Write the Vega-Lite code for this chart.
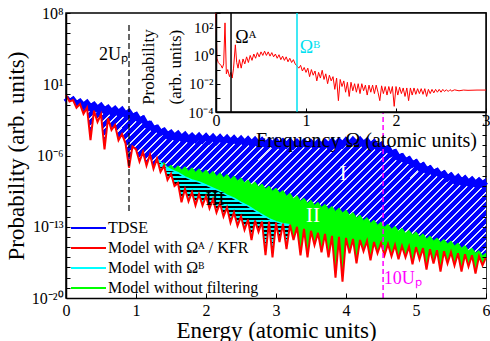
{
"$schema":"https://vega.github.io/schema/vega-lite/v6.json",
"width":420,"height":285,
"autosize":{"type":"none"},
"padding":{"left":66,"top":13,"right":4,"bottom":43},
"background":"white",
"config":{
 "view":{"stroke":"black","strokeWidth":1.5},
 "font":"Liberation Serif",
 "style":{"guide-label":{"font":"Liberation Serif","fill":"black"},"guide-title":{"font":"Liberation Serif","fontWeight":"normal","fill":"black"}},
 "axis":{"labelFont":"Liberation Serif","titleFont":"Liberation Serif","labelColor":"black","titleColor":"black","domainColor":"black","tickColor":"black","titleFontWeight":"normal","grid":false,"labelFlush":false,"labelOverlap":false,"domainWidth":1.5},
 "legend":{"labelFont":"Liberation Serif","labelColor":"black"}
},
"datasets":{
"tdse":[{"E":0,"P":0.891},{"E":0.05,"P":0.316},{"E":0.1,"P":0.562},{"E":0.15,"P":0.2},{"E":0.2,"P":0.355},{"E":0.25,"P":0.141},{"E":0.3,"P":0.282},{"E":0.35,"P":0.1},{"E":0.4,"P":0.178},{"E":0.45,"P":0.0708},{"E":0.5,"P":0.141},{"E":0.55,"P":0.0501},{"E":0.6,"P":0.0891},{"E":0.65,"P":0.0355},{"E":0.7,"P":0.0708},{"E":0.75,"P":0.0282},{"E":0.8,"P":0.0562},{"E":0.85,"P":0.02},{"E":0.9,"P":0.0355},{"E":0.95,"P":0.0112},{"E":1.0,"P":0.0178},{"E":1.05,"P":0.00501},{"E":1.1,"P":0.00794},{"E":1.15,"P":0.002},{"E":1.2,"P":0.00251},{"E":1.25,"P":0.000708},{"E":1.3,"P":0.001},{"E":1.35,"P":0.000316},{"E":1.4,"P":0.000501},{"E":1.45,"P":0.000178},{"E":1.5,"P":0.000316},{"E":1.55,"P":0.000126},{"E":1.6,"P":0.000251},{"E":1.65,"P":0.0001},{"E":1.7,"P":0.0002},{"E":1.75,"P":7.94e-5},{"E":1.8,"P":1.58e-4},{"E":1.85,"P":7.08e-5},{"E":1.9,"P":1.58e-4},{"E":1.95,"P":6.31e-5},{"E":2.0,"P":1.41e-4},{"E":2.05,"P":5.62e-5},{"E":2.1,"P":1.26e-4},{"E":2.15,"P":5.01e-5},{"E":2.2,"P":1.12e-4},{"E":2.25,"P":4.47e-5},{"E":2.3,"P":1e-4},{"E":2.35,"P":3.98e-5},{"E":2.4,"P":8.91e-5},{"E":2.45,"P":3.55e-5},{"E":2.5,"P":7.94e-5},{"E":2.55,"P":3.16e-5},{"E":2.6,"P":7.08e-5},{"E":2.65,"P":2.82e-5},{"E":2.7,"P":6.31e-5},{"E":2.75,"P":2.51e-5},{"E":2.8,"P":5.62e-5},{"E":2.85,"P":2.24e-5},{"E":2.9,"P":5.01e-5},{"E":2.95,"P":2.24e-5},{"E":3.0,"P":5.01e-5},{"E":3.05,"P":2.0e-5},{"E":3.1,"P":4.47e-5},{"E":3.15,"P":2.0e-5},{"E":3.2,"P":4.47e-5},{"E":3.25,"P":1.78e-5},{"E":3.3,"P":3.98e-5},{"E":3.35,"P":1.78e-5},{"E":3.4,"P":3.98e-5},{"E":3.45,"P":1.58e-5},{"E":3.5,"P":3.55e-5},{"E":3.55,"P":1.58e-5},{"E":3.6,"P":3.55e-5},{"E":3.65,"P":1.78e-5},{"E":3.7,"P":3.98e-5},{"E":3.75,"P":1.78e-5},{"E":3.8,"P":4.47e-5},{"E":3.85,"P":2.0e-5},{"E":3.9,"P":5.01e-5},{"E":3.95,"P":2.24e-5},{"E":4.0,"P":5.62e-5},{"E":4.05,"P":2.51e-5},{"E":4.1,"P":6.31e-5},{"E":4.15,"P":2.82e-5},{"E":4.2,"P":6.31e-5},{"E":4.25,"P":2.51e-5},{"E":4.3,"P":5.01e-5},{"E":4.35,"P":1.78e-5},{"E":4.4,"P":3.55e-5},{"E":4.45,"P":1.12e-5},{"E":4.5,"P":2.0e-5},{"E":4.55,"P":6.31e-6},{"E":4.6,"P":1e-5},{"E":4.65,"P":2.82e-6},{"E":4.7,"P":3.98e-6},{"E":4.75,"P":1.12e-6},{"E":4.8,"P":1.58e-6},{"E":4.85,"P":5.01e-7},{"E":4.9,"P":7.94e-7},{"E":4.95,"P":2.51e-7},{"E":5.0,"P":3.98e-7},{"E":5.05,"P":1.26e-7},{"E":5.1,"P":2.0e-7},{"E":5.15,"P":6.31e-8},{"E":5.2,"P":1e-7},{"E":5.25,"P":3.55e-8},{"E":5.3,"P":5.62e-8},{"E":5.35,"P":2.0e-8},{"E":5.4,"P":3.16e-8},{"E":5.45,"P":1.12e-8},{"E":5.5,"P":2.0e-8},{"E":5.55,"P":7.08e-9},{"E":5.6,"P":1.41e-8},{"E":5.65,"P":5.01e-9},{"E":5.7,"P":1e-8},{"E":5.75,"P":3.98e-9},{"E":5.8,"P":7.94e-9},{"E":5.85,"P":3.16e-9},{"E":5.9,"P":6.31e-9},{"E":5.95,"P":2.82e-9},{"E":6.0,"P":5.62e-9}],
"red":[{"E":0,"P":0.891},{"E":0.05,"P":0.2},{"E":0.1,"P":0.282},{"E":0.15,"P":0.0501},{"E":0.2,"P":0.112},{"E":0.25,"P":0.0126},{"E":0.3,"P":0.0501},{"E":0.35,"P":3.16e-5},{"E":0.4,"P":0.0251},{"E":0.45,"P":0.002},{"E":0.5,"P":0.0112},{"E":0.55,"P":3.98e-6},{"E":0.6,"P":0.00447},{"E":0.65,"P":0.000316},{"E":0.7,"P":0.001},{"E":0.75,"P":3.16e-5},{"E":0.8,"P":1.26e-4},{"E":0.85,"P":1.58e-5},{"E":0.9,"P":6.31e-8},{"E":0.95,"P":7.94e-6},{"E":1.0,"P":3.98e-6},{"E":1.05,"P":2.51e-7},{"E":1.1,"P":2.24e-6},{"E":1.15,"P":1e-7},{"E":1.2,"P":1.26e-6},{"E":1.25,"P":5.01e-8},{"E":1.3,"P":5.01e-7},{"E":1.35,"P":2.51e-8},{"E":1.4,"P":1e-7},{"E":1.45,"P":3.98e-9},{"E":1.5,"P":1.58e-8},{"E":1.55,"P":1e-9},{"E":1.6,"P":2.0e-9},{"E":1.65,"P":2.51e-11},{"E":1.7,"P":5.01e-10},{"E":1.75,"P":3.16e-11},{"E":1.8,"P":2.51e-10},{"E":1.85,"P":1.26e-11},{"E":1.9,"P":1.58e-10},{"E":1.95,"P":1.26e-11},{"E":2.0,"P":1e-10},{"E":2.05,"P":6.31e-12},{"E":2.1,"P":5.01e-11},{"E":2.15,"P":2.51e-12},{"E":2.2,"P":2.0e-11},{"E":2.25,"P":1e-12},{"E":2.3,"P":7.94e-12},{"E":2.35,"P":2.51e-13},{"E":2.4,"P":2.51e-12},{"E":2.45,"P":1.26e-13},{"E":2.5,"P":1e-12},{"E":2.55,"P":5.01e-14},{"E":2.6,"P":5.01e-13},{"E":2.65,"P":5.01e-15},{"E":2.7,"P":3.98e-13},{"E":2.75,"P":3.16e-14},{"E":2.8,"P":3.16e-13},{"E":2.85,"P":1.58e-16},{"E":2.9,"P":3.16e-13},{"E":2.95,"P":1e-16},{"E":3.0,"P":2.51e-13},{"E":3.05,"P":3.16e-15},{"E":3.1,"P":2.0e-13},{"E":3.15,"P":6.31e-16},{"E":3.2,"P":1.58e-13},{"E":3.25,"P":5.01e-15},{"E":3.3,"P":1e-13},{"E":3.35,"P":1.58e-16},{"E":3.4,"P":6.31e-14},{"E":3.45,"P":1e-16},{"E":3.5,"P":3.98e-14},{"E":3.55,"P":1.58e-15},{"E":3.6,"P":2.51e-14},{"E":3.65,"P":3.16e-16},{"E":3.7,"P":2.0e-14},{"E":3.75,"P":1e-16},{"E":3.8,"P":1.26e-14},{"E":3.85,"P":1e-18},{"E":3.9,"P":1e-14},{"E":3.95,"P":3.98e-19},{"E":4.0,"P":7.94e-15},{"E":4.05,"P":2.51e-16},{"E":4.1,"P":6.31e-15},{"E":4.15,"P":2.51e-17},{"E":4.2,"P":5.01e-15},{"E":4.25,"P":3.98e-16},{"E":4.3,"P":3.98e-15},{"E":4.35,"P":5.01e-17},{"E":4.4,"P":3.16e-15},{"E":4.45,"P":2.51e-16},{"E":4.5,"P":2.51e-15},{"E":4.55,"P":1.58e-16},{"E":4.6,"P":2.0e-15},{"E":4.65,"P":1.26e-16},{"E":4.7,"P":1.58e-15},{"E":4.75,"P":6.31e-17},{"E":4.8,"P":1.26e-15},{"E":4.85,"P":1e-16},{"E":4.9,"P":1.12e-15},{"E":4.95,"P":2.0e-17},{"E":5.0,"P":1e-15},{"E":5.05,"P":6.31e-17},{"E":5.1,"P":7.94e-16},{"E":5.15,"P":6.31e-18},{"E":5.2,"P":6.31e-16},{"E":5.25,"P":2.51e-17},{"E":5.3,"P":5.01e-16},{"E":5.35,"P":3.98e-18},{"E":5.4,"P":3.98e-16},{"E":5.45,"P":2.51e-17},{"E":5.5,"P":3.16e-16},{"E":5.55,"P":1.58e-17},{"E":5.6,"P":2.51e-16},{"E":5.65,"P":3.98e-18},{"E":5.7,"P":2.0e-16},{"E":5.75,"P":1.26e-17},{"E":5.8,"P":1.58e-16},{"E":5.85,"P":2.51e-18},{"E":5.9,"P":1.26e-16},{"E":5.95,"P":1.58e-17},{"E":6.0,"P":1e-16}],
"green":[{"E":1.3,"P":5.01e-7},{"E":1.35,"P":1.26e-7},{"E":1.4,"P":2.0e-7},{"E":1.45,"P":6.31e-8},{"E":1.5,"P":1.12e-7},{"E":1.55,"P":4.47e-8},{"E":1.6,"P":1e-7},{"E":1.65,"P":3.55e-8},{"E":1.7,"P":7.94e-8},{"E":1.75,"P":2.82e-8},{"E":1.8,"P":6.31e-8},{"E":1.85,"P":2.24e-8},{"E":1.9,"P":5.01e-8},{"E":1.95,"P":1.78e-8},{"E":2.0,"P":3.98e-8},{"E":2.05,"P":1.26e-8},{"E":2.1,"P":2.82e-8},{"E":2.15,"P":8.91e-9},{"E":2.2,"P":2.0e-8},{"E":2.25,"P":6.31e-9},{"E":2.3,"P":1.41e-8},{"E":2.35,"P":4.47e-9},{"E":2.4,"P":1e-8},{"E":2.45,"P":3.16e-9},{"E":2.5,"P":6.31e-9},{"E":2.55,"P":2.0e-9},{"E":2.6,"P":3.98e-9},{"E":2.65,"P":1.26e-9},{"E":2.7,"P":2.51e-9},{"E":2.75,"P":7.94e-10},{"E":2.8,"P":1.58e-9},{"E":2.85,"P":5.01e-10},{"E":2.9,"P":1e-9},{"E":2.95,"P":3.16e-10},{"E":3.0,"P":6.31e-10},{"E":3.05,"P":2.0e-10},{"E":3.1,"P":3.55e-10},{"E":3.15,"P":1e-10},{"E":3.2,"P":2.0e-10},{"E":3.25,"P":5.62e-11},{"E":3.3,"P":1.12e-10},{"E":3.35,"P":3.16e-11},{"E":3.4,"P":6.31e-11},{"E":3.45,"P":2.0e-11},{"E":3.5,"P":3.98e-11},{"E":3.55,"P":1.26e-11},{"E":3.6,"P":2.51e-11},{"E":3.65,"P":7.94e-12},{"E":3.7,"P":1.58e-11},{"E":3.75,"P":5.01e-12},{"E":3.8,"P":1e-11},{"E":3.85,"P":3.16e-12},{"E":3.9,"P":7.08e-12},{"E":3.95,"P":2.24e-12},{"E":4.0,"P":4.47e-12},{"E":4.05,"P":1.26e-12},{"E":4.1,"P":2.51e-12},{"E":4.15,"P":7.08e-13},{"E":4.2,"P":1.41e-12},{"E":4.25,"P":3.98e-13},{"E":4.3,"P":7.94e-13},{"E":4.35,"P":2.24e-13},{"E":4.4,"P":4.47e-13},{"E":4.45,"P":1.41e-13},{"E":4.5,"P":2.82e-13},{"E":4.55,"P":8.91e-14},{"E":4.6,"P":1.78e-13},{"E":4.65,"P":5.62e-14},{"E":4.7,"P":1.12e-13},{"E":4.75,"P":3.55e-14},{"E":4.8,"P":7.08e-14},{"E":4.85,"P":2.24e-14},{"E":4.9,"P":4.47e-14},{"E":4.95,"P":1.58e-14},{"E":5.0,"P":3.16e-14},{"E":5.05,"P":1e-14},{"E":5.1,"P":2.0e-14},{"E":5.15,"P":6.31e-15},{"E":5.2,"P":1.26e-14},{"E":5.25,"P":3.98e-15},{"E":5.3,"P":7.94e-15},{"E":5.35,"P":2.82e-15},{"E":5.4,"P":5.62e-15},{"E":5.45,"P":2.0e-15},{"E":5.5,"P":3.98e-15},{"E":5.55,"P":1.26e-15},{"E":5.6,"P":2.51e-15},{"E":5.65,"P":7.94e-16},{"E":5.7,"P":1.41e-15},{"E":5.75,"P":4.47e-16},{"E":5.8,"P":7.94e-16},{"E":5.85,"P":2.51e-16},{"E":5.9,"P":4.47e-16},{"E":5.95,"P":1.41e-16},{"E":6.0,"P":2.51e-16}],
"cyan":[{"E":1.3,"P":5.01e-7},{"E":1.4,"P":1e-7},{"E":1.5,"P":3.98e-8},{"E":1.6,"P":2.0e-8},{"E":1.7,"P":7.94e-9},{"E":1.8,"P":3.98e-9},{"E":1.9,"P":2.51e-9},{"E":2.0,"P":1.26e-9},{"E":2.1,"P":6.31e-10},{"E":2.2,"P":3.16e-10},{"E":2.3,"P":1.26e-10},{"E":2.4,"P":6.31e-11},{"E":2.5,"P":2.51e-11},{"E":2.6,"P":1.12e-11},{"E":2.7,"P":3.98e-12},{"E":2.8,"P":1.58e-12},{"E":2.9,"P":6.31e-13},{"E":3.0,"P":3.16e-13},{"E":3.1,"P":2.0e-13},{"E":3.2,"P":1.58e-13}],
"spec":[{"f":0,"P":1000},{"f":0.01,"P":0.631},{"f":0.025,"P":0.316},{"f":0.04,"P":0.251},{"f":0.055,"P":0.2},{"f":0.07,"P":0.126},{"f":0.085,"P":0.251},{"f":0.1,"P":200},{"f":0.115,"P":0.0501},{"f":0.13,"P":0.1},{"f":0.15,"P":0.0316},{"f":0.165,"P":0.0631},{"f":0.18,"P":0.0251},{"f":0.195,"P":0.126},{"f":0.215,"P":5.62},{"f":0.23,"P":0.316},{"f":0.245,"P":0.126},{"f":0.26,"P":0.501},{"f":0.28,"P":0.126},{"f":0.3,"P":0.562},{"f":0.32,"P":0.251},{"f":0.34,"P":0.794},{"f":0.36,"P":0.316},{"f":0.38,"P":1},{"f":0.4,"P":0.447},{"f":0.42,"P":1.26},{"f":0.44,"P":0.631},{"f":0.46,"P":1.58},{"f":0.48,"P":0.794},{"f":0.5,"P":1.78},{"f":0.52,"P":1},{"f":0.54,"P":2.0},{"f":0.56,"P":1},{"f":0.58,"P":1.78},{"f":0.6,"P":0.891},{"f":0.62,"P":1.58},{"f":0.64,"P":0.794},{"f":0.66,"P":1.26},{"f":0.68,"P":0.631},{"f":0.7,"P":1.12},{"f":0.72,"P":0.501},{"f":0.74,"P":0.891},{"f":0.76,"P":0.447},{"f":0.78,"P":0.794},{"f":0.8,"P":0.355},{"f":0.82,"P":0.631},{"f":0.84,"P":0.316},{"f":0.86,"P":0.501},{"f":0.88,"P":0.251},{"f":0.9,"P":0.178},{"f":0.92,"P":0.126},{"f":0.94,"P":0.2},{"f":0.96,"P":0.0794},{"f":0.98,"P":0.141},{"f":1.0,"P":0.0631},{"f":1.02,"P":0.126},{"f":1.04,"P":0.0316},{"f":1.06,"P":0.1},{"f":1.08,"P":0.0398},{"f":1.1,"P":0.0794},{"f":1.12,"P":0.0158},{"f":1.14,"P":0.0631},{"f":1.16,"P":0.0251},{"f":1.18,"P":0.0891},{"f":1.2,"P":0.02},{"f":1.22,"P":0.0501},{"f":1.24,"P":0.01},{"f":1.26,"P":0.0398},{"f":1.28,"P":0.0158},{"f":1.3,"P":0.0316},{"f":1.32,"P":0.00398},{"f":1.34,"P":0.0251},{"f":1.36,"P":0.000631},{"f":1.38,"P":0.02},{"f":1.4,"P":0.00631},{"f":1.42,"P":0.0158},{"f":1.44,"P":0.00251},{"f":1.46,"P":0.0126},{"f":1.48,"P":0.00126},{"f":1.5,"P":0.0126},{"f":1.52,"P":0.00316},{"f":1.54,"P":0.01},{"f":1.56,"P":0.00251},{"f":1.58,"P":0.01},{"f":1.6,"P":0.002},{"f":1.62,"P":0.01},{"f":1.64,"P":0.00316},{"f":1.66,"P":0.00794},{"f":1.68,"P":0.00158},{"f":1.7,"P":0.00794},{"f":1.72,"P":0.00251},{"f":1.74,"P":0.00794},{"f":1.76,"P":0.002},{"f":1.78,"P":0.00794},{"f":1.8,"P":0.00251},{"f":1.82,"P":0.000631},{"f":1.84,"P":0.00708},{"f":1.86,"P":0.002},{"f":1.88,"P":0.00631},{"f":1.9,"P":0.00158},{"f":1.92,"P":0.00631},{"f":1.94,"P":0.002},{"f":1.96,"P":0.00631},{"f":1.98,"P":0.000251},{"f":2.0,"P":0.00631},{"f":2.02,"P":0.00158},{"f":2.04,"P":0.00562},{"f":2.06,"P":0.002},{"f":2.08,"P":0.00501},{"f":2.1,"P":0.00126},{"f":2.12,"P":0.00501},{"f":2.14,"P":0.000631},{"f":2.16,"P":0.00501},{"f":2.18,"P":0.00158},{"f":2.2,"P":0.00501},{"f":2.22,"P":0.00178},{"f":2.24,"P":0.00447},{"f":2.26,"P":0.002},{"f":2.28,"P":0.00447},{"f":2.3,"P":0.00178},{"f":2.32,"P":0.00447},{"f":2.34,"P":0.00126},{"f":2.36,"P":0.00398},{"f":2.38,"P":0.002},{"f":2.4,"P":0.00398},{"f":2.42,"P":0.00224},{"f":2.44,"P":0.00398},{"f":2.46,"P":0.00251},{"f":2.48,"P":0.00398},{"f":2.5,"P":0.00251},{"f":2.52,"P":0.00398},{"f":2.54,"P":0.00282},{"f":2.56,"P":0.0038},{"f":2.58,"P":0.00282},{"f":2.6,"P":0.0038},{"f":2.62,"P":0.003},{"f":2.65,"P":0.0037},{"f":2.7,"P":0.00316},{"f":2.75,"P":0.00355},{"f":2.8,"P":0.0034},{"f":2.9,"P":0.00355},{"f":3.0,"P":0.00355}]
},
"layer":[
{"layer":[
 {"data":{"name":"tdse"},
  "mark":{"type":"area","fill":{"gradient":"linear","x1":0,"y1":0,"x2":1.25,"y2":0.604,"stops":[
{"offset":0,"color":"#00f"},{"offset":0.0094,"color":"#00f"},{"offset":0.0094,"color":"#dde2ff"},{"offset":0.0125,"color":"#dde2ff"},
{"offset":0.0125,"color":"#00f"},{"offset":0.0219,"color":"#00f"},{"offset":0.0219,"color":"#dde2ff"},{"offset":0.025,"color":"#dde2ff"},
{"offset":0.025,"color":"#00f"},{"offset":0.0344,"color":"#00f"},{"offset":0.0344,"color":"#dde2ff"},{"offset":0.0375,"color":"#dde2ff"},
{"offset":0.0375,"color":"#00f"},{"offset":0.0469,"color":"#00f"},{"offset":0.0469,"color":"#dde2ff"},{"offset":0.05,"color":"#dde2ff"},
{"offset":0.05,"color":"#00f"},{"offset":0.0594,"color":"#00f"},{"offset":0.0594,"color":"#dde2ff"},{"offset":0.0625,"color":"#dde2ff"},
{"offset":0.0625,"color":"#00f"},{"offset":0.0719,"color":"#00f"},{"offset":0.0719,"color":"#dde2ff"},{"offset":0.075,"color":"#dde2ff"},
{"offset":0.075,"color":"#00f"},{"offset":0.0844,"color":"#00f"},{"offset":0.0844,"color":"#dde2ff"},{"offset":0.0875,"color":"#dde2ff"},
{"offset":0.0875,"color":"#00f"},{"offset":0.0969,"color":"#00f"},{"offset":0.0969,"color":"#dde2ff"},{"offset":0.1,"color":"#dde2ff"},
{"offset":0.1,"color":"#00f"},{"offset":0.1094,"color":"#00f"},{"offset":0.1094,"color":"#dde2ff"},{"offset":0.1125,"color":"#dde2ff"},
{"offset":0.1125,"color":"#00f"},{"offset":0.1219,"color":"#00f"},{"offset":0.1219,"color":"#dde2ff"},{"offset":0.125,"color":"#dde2ff"},
{"offset":0.125,"color":"#00f"},{"offset":0.1344,"color":"#00f"},{"offset":0.1344,"color":"#dde2ff"},{"offset":0.1375,"color":"#dde2ff"},
{"offset":0.1375,"color":"#00f"},{"offset":0.1469,"color":"#00f"},{"offset":0.1469,"color":"#dde2ff"},{"offset":0.15,"color":"#dde2ff"},
{"offset":0.15,"color":"#00f"},{"offset":0.1594,"color":"#00f"},{"offset":0.1594,"color":"#dde2ff"},{"offset":0.1625,"color":"#dde2ff"},
{"offset":0.1625,"color":"#00f"},{"offset":0.1719,"color":"#00f"},{"offset":0.1719,"color":"#dde2ff"},{"offset":0.175,"color":"#dde2ff"},
{"offset":0.175,"color":"#00f"},{"offset":0.1844,"color":"#00f"},{"offset":0.1844,"color":"#dde2ff"},{"offset":0.1875,"color":"#dde2ff"},
{"offset":0.1875,"color":"#00f"},{"offset":0.1969,"color":"#00f"},{"offset":0.1969,"color":"#dde2ff"},{"offset":0.2,"color":"#dde2ff"},
{"offset":0.2,"color":"#00f"},{"offset":0.2094,"color":"#00f"},{"offset":0.2094,"color":"#dde2ff"},{"offset":0.2125,"color":"#dde2ff"},
{"offset":0.2125,"color":"#00f"},{"offset":0.2219,"color":"#00f"},{"offset":0.2219,"color":"#dde2ff"},{"offset":0.225,"color":"#dde2ff"},
{"offset":0.225,"color":"#00f"},{"offset":0.2344,"color":"#00f"},{"offset":0.2344,"color":"#dde2ff"},{"offset":0.2375,"color":"#dde2ff"},
{"offset":0.2375,"color":"#00f"},{"offset":0.2469,"color":"#00f"},{"offset":0.2469,"color":"#dde2ff"},{"offset":0.25,"color":"#dde2ff"},
{"offset":0.25,"color":"#00f"},{"offset":0.2594,"color":"#00f"},{"offset":0.2594,"color":"#dde2ff"},{"offset":0.2625,"color":"#dde2ff"},
{"offset":0.2625,"color":"#00f"},{"offset":0.2719,"color":"#00f"},{"offset":0.2719,"color":"#dde2ff"},{"offset":0.275,"color":"#dde2ff"},
{"offset":0.275,"color":"#00f"},{"offset":0.2844,"color":"#00f"},{"offset":0.2844,"color":"#dde2ff"},{"offset":0.2875,"color":"#dde2ff"},
{"offset":0.2875,"color":"#00f"},{"offset":0.2969,"color":"#00f"},{"offset":0.2969,"color":"#dde2ff"},{"offset":0.3,"color":"#dde2ff"},
{"offset":0.3,"color":"#00f"},{"offset":0.3094,"color":"#00f"},{"offset":0.3094,"color":"#dde2ff"},{"offset":0.3125,"color":"#dde2ff"},
{"offset":0.3125,"color":"#00f"},{"offset":0.3219,"color":"#00f"},{"offset":0.3219,"color":"#dde2ff"},{"offset":0.325,"color":"#dde2ff"},
{"offset":0.325,"color":"#00f"},{"offset":0.3344,"color":"#00f"},{"offset":0.3344,"color":"#dde2ff"},{"offset":0.3375,"color":"#dde2ff"},
{"offset":0.3375,"color":"#00f"},{"offset":0.3469,"color":"#00f"},{"offset":0.3469,"color":"#dde2ff"},{"offset":0.35,"color":"#dde2ff"},
{"offset":0.35,"color":"#00f"},{"offset":0.3594,"color":"#00f"},{"offset":0.3594,"color":"#dde2ff"},{"offset":0.3625,"color":"#dde2ff"},
{"offset":0.3625,"color":"#00f"},{"offset":0.3719,"color":"#00f"},{"offset":0.3719,"color":"#dde2ff"},{"offset":0.375,"color":"#dde2ff"},
{"offset":0.375,"color":"#00f"},{"offset":0.3844,"color":"#00f"},{"offset":0.3844,"color":"#dde2ff"},{"offset":0.3875,"color":"#dde2ff"},
{"offset":0.3875,"color":"#00f"},{"offset":0.3969,"color":"#00f"},{"offset":0.3969,"color":"#dde2ff"},{"offset":0.4,"color":"#dde2ff"},
{"offset":0.4,"color":"#00f"},{"offset":0.4094,"color":"#00f"},{"offset":0.4094,"color":"#dde2ff"},{"offset":0.4125,"color":"#dde2ff"},
{"offset":0.4125,"color":"#00f"},{"offset":0.4219,"color":"#00f"},{"offset":0.4219,"color":"#dde2ff"},{"offset":0.425,"color":"#dde2ff"},
{"offset":0.425,"color":"#00f"},{"offset":0.4344,"color":"#00f"},{"offset":0.4344,"color":"#dde2ff"},{"offset":0.4375,"color":"#dde2ff"},
{"offset":0.4375,"color":"#00f"},{"offset":0.4469,"color":"#00f"},{"offset":0.4469,"color":"#dde2ff"},{"offset":0.45,"color":"#dde2ff"},
{"offset":0.45,"color":"#00f"},{"offset":0.4594,"color":"#00f"},{"offset":0.4594,"color":"#dde2ff"},{"offset":0.4625,"color":"#dde2ff"},
{"offset":0.4625,"color":"#00f"},{"offset":0.4719,"color":"#00f"},{"offset":0.4719,"color":"#dde2ff"},{"offset":0.475,"color":"#dde2ff"},
{"offset":0.475,"color":"#00f"},{"offset":0.4844,"color":"#00f"},{"offset":0.4844,"color":"#dde2ff"},{"offset":0.4875,"color":"#dde2ff"},
{"offset":0.4875,"color":"#00f"},{"offset":0.4969,"color":"#00f"},{"offset":0.4969,"color":"#dde2ff"},{"offset":0.5,"color":"#dde2ff"},
{"offset":0.5,"color":"#00f"},{"offset":0.5094,"color":"#00f"},{"offset":0.5094,"color":"#dde2ff"},{"offset":0.5125,"color":"#dde2ff"},
{"offset":0.5125,"color":"#00f"},{"offset":0.5219,"color":"#00f"},{"offset":0.5219,"color":"#dde2ff"},{"offset":0.525,"color":"#dde2ff"},
{"offset":0.525,"color":"#00f"},{"offset":0.5344,"color":"#00f"},{"offset":0.5344,"color":"#dde2ff"},{"offset":0.5375,"color":"#dde2ff"},
{"offset":0.5375,"color":"#00f"},{"offset":0.5469,"color":"#00f"},{"offset":0.5469,"color":"#dde2ff"},{"offset":0.55,"color":"#dde2ff"},
{"offset":0.55,"color":"#00f"},{"offset":0.5594,"color":"#00f"},{"offset":0.5594,"color":"#dde2ff"},{"offset":0.5625,"color":"#dde2ff"},
{"offset":0.5625,"color":"#00f"},{"offset":0.5719,"color":"#00f"},{"offset":0.5719,"color":"#dde2ff"},{"offset":0.575,"color":"#dde2ff"},
{"offset":0.575,"color":"#00f"},{"offset":0.5844,"color":"#00f"},{"offset":0.5844,"color":"#dde2ff"},{"offset":0.5875,"color":"#dde2ff"},
{"offset":0.5875,"color":"#00f"},{"offset":0.5969,"color":"#00f"},{"offset":0.5969,"color":"#dde2ff"},{"offset":0.6,"color":"#dde2ff"},
{"offset":0.6,"color":"#00f"},{"offset":0.6094,"color":"#00f"},{"offset":0.6094,"color":"#dde2ff"},{"offset":0.6125,"color":"#dde2ff"},
{"offset":0.6125,"color":"#00f"},{"offset":0.6219,"color":"#00f"},{"offset":0.6219,"color":"#dde2ff"},{"offset":0.625,"color":"#dde2ff"},
{"offset":0.625,"color":"#00f"},{"offset":0.6344,"color":"#00f"},{"offset":0.6344,"color":"#dde2ff"},{"offset":0.6375,"color":"#dde2ff"},
{"offset":0.6375,"color":"#00f"},{"offset":0.6469,"color":"#00f"},{"offset":0.6469,"color":"#dde2ff"},{"offset":0.65,"color":"#dde2ff"},
{"offset":0.65,"color":"#00f"},{"offset":0.6594,"color":"#00f"},{"offset":0.6594,"color":"#dde2ff"},{"offset":0.6625,"color":"#dde2ff"},
{"offset":0.6625,"color":"#00f"},{"offset":0.6719,"color":"#00f"},{"offset":0.6719,"color":"#dde2ff"},{"offset":0.675,"color":"#dde2ff"},
{"offset":0.675,"color":"#00f"},{"offset":0.6844,"color":"#00f"},{"offset":0.6844,"color":"#dde2ff"},{"offset":0.6875,"color":"#dde2ff"},
{"offset":0.6875,"color":"#00f"},{"offset":0.6969,"color":"#00f"},{"offset":0.6969,"color":"#dde2ff"},{"offset":0.7,"color":"#dde2ff"},
{"offset":0.7,"color":"#00f"},{"offset":0.7094,"color":"#00f"},{"offset":0.7094,"color":"#dde2ff"},{"offset":0.7125,"color":"#dde2ff"},
{"offset":0.7125,"color":"#00f"},{"offset":0.7219,"color":"#00f"},{"offset":0.7219,"color":"#dde2ff"},{"offset":0.725,"color":"#dde2ff"},
{"offset":0.725,"color":"#00f"},{"offset":0.7344,"color":"#00f"},{"offset":0.7344,"color":"#dde2ff"},{"offset":0.7375,"color":"#dde2ff"},
{"offset":0.7375,"color":"#00f"},{"offset":0.7469,"color":"#00f"},{"offset":0.7469,"color":"#dde2ff"},{"offset":0.75,"color":"#dde2ff"},
{"offset":0.75,"color":"#00f"},{"offset":0.7594,"color":"#00f"},{"offset":0.7594,"color":"#dde2ff"},{"offset":0.7625,"color":"#dde2ff"},
{"offset":0.7625,"color":"#00f"},{"offset":0.7719,"color":"#00f"},{"offset":0.7719,"color":"#dde2ff"},{"offset":0.775,"color":"#dde2ff"},
{"offset":0.775,"color":"#00f"},{"offset":0.7844,"color":"#00f"},{"offset":0.7844,"color":"#dde2ff"},{"offset":0.7875,"color":"#dde2ff"},
{"offset":0.7875,"color":"#00f"},{"offset":0.7969,"color":"#00f"},{"offset":0.7969,"color":"#dde2ff"},{"offset":0.8,"color":"#dde2ff"},
{"offset":0.8,"color":"#00f"},{"offset":0.8094,"color":"#00f"},{"offset":0.8094,"color":"#dde2ff"},{"offset":0.8125,"color":"#dde2ff"},
{"offset":0.8125,"color":"#00f"},{"offset":0.8219,"color":"#00f"},{"offset":0.8219,"color":"#dde2ff"},{"offset":0.825,"color":"#dde2ff"},
{"offset":0.825,"color":"#00f"},{"offset":0.8344,"color":"#00f"},{"offset":0.8344,"color":"#dde2ff"},{"offset":0.8375,"color":"#dde2ff"},
{"offset":0.8375,"color":"#00f"},{"offset":0.8469,"color":"#00f"},{"offset":0.8469,"color":"#dde2ff"},{"offset":0.85,"color":"#dde2ff"},
{"offset":0.85,"color":"#00f"},{"offset":0.8594,"color":"#00f"},{"offset":0.8594,"color":"#dde2ff"},{"offset":0.8625,"color":"#dde2ff"},
{"offset":0.8625,"color":"#00f"},{"offset":0.8719,"color":"#00f"},{"offset":0.8719,"color":"#dde2ff"},{"offset":0.875,"color":"#dde2ff"},
{"offset":0.875,"color":"#00f"},{"offset":0.8844,"color":"#00f"},{"offset":0.8844,"color":"#dde2ff"},{"offset":0.8875,"color":"#dde2ff"},
{"offset":0.8875,"color":"#00f"},{"offset":0.8969,"color":"#00f"},{"offset":0.8969,"color":"#dde2ff"},{"offset":0.9,"color":"#dde2ff"},
{"offset":0.9,"color":"#00f"},{"offset":0.9094,"color":"#00f"},{"offset":0.9094,"color":"#dde2ff"},{"offset":0.9125,"color":"#dde2ff"},
{"offset":0.9125,"color":"#00f"},{"offset":0.9219,"color":"#00f"},{"offset":0.9219,"color":"#dde2ff"},{"offset":0.925,"color":"#dde2ff"},
{"offset":0.925,"color":"#00f"},{"offset":0.9344,"color":"#00f"},{"offset":0.9344,"color":"#dde2ff"},{"offset":0.9375,"color":"#dde2ff"},
{"offset":0.9375,"color":"#00f"},{"offset":0.9469,"color":"#00f"},{"offset":0.9469,"color":"#dde2ff"},{"offset":0.95,"color":"#dde2ff"},
{"offset":0.95,"color":"#00f"},{"offset":0.9594,"color":"#00f"},{"offset":0.9594,"color":"#dde2ff"},{"offset":0.9625,"color":"#dde2ff"},
{"offset":0.9625,"color":"#00f"},{"offset":0.9719,"color":"#00f"},{"offset":0.9719,"color":"#dde2ff"},{"offset":0.975,"color":"#dde2ff"},
{"offset":0.975,"color":"#00f"},{"offset":0.9844,"color":"#00f"},{"offset":0.9844,"color":"#dde2ff"},{"offset":0.9875,"color":"#dde2ff"},
{"offset":0.9875,"color":"#00f"},{"offset":0.9969,"color":"#00f"},{"offset":0.9969,"color":"#dde2ff"},{"offset":1,"color":"#dde2ff"}
]}},
  "encoding":{
   "x":{"field":"E","type":"quantitative","scale":{"domain":[0,6],"nice":false},
        "axis":{"values":[0,0.5,1,1.5,2,2.5,3,3.5,4,4.5,5,5.5,6],"labelExpr":"datum.value % 1 == 0 ? format(datum.value, 'd') : ''","tickSize":-5,"labelPadding":9,"labelFontSize":16,"labelFont":"Liberation Serif","labelColor":"black","title":"Energy (atomic units)","titleFont":"Liberation Serif","titleFontWeight":"normal","titleColor":"black","titleFontSize":23,"titlePadding":1,"labelFlush":false,"labelOverlap":false,"zindex":1}},
   "y":{"field":"P","type":"quantitative","scale":{"type":"log","domain":[1e-20,1e8],"nice":false},
        "axis":{"values":[1e-20,1e-19,1e-18,1e-17,1e-16,1e-15,1e-14,1e-13,1e-12,1e-11,1e-10,1e-9,1e-8,1e-7,1e-6,1e-5,1e-4,1e-3,0.01,0.1,1,10,100,1000,1e4,1e5,1e6,1e7,1e8],
        "labelExpr":"datum.value == 1e8 ? '10⁸' : datum.value == 10 ? '10¹' : datum.value == 1e-6 ? '10⁻⁶' : datum.value == 1e-13 ? '10⁻¹³' : datum.value == 1e-20 ? '10⁻²⁰' : ''",
        "tickSize":-4,"labelPadding":7,"labelFontSize":16,"labelFont":"Liberation Serif","labelColor":"black","title":"Probability (arb. units)","titleFont":"Liberation Serif","titleFontWeight":"normal","titleColor":"black","titleFontSize":23,"titlePadding":3,"labelFlush":false,"labelOverlap":false,"zindex":1}},
   "y2":{"datum":1e-20}}},
 {"data":{"name":"tdse"},"mark":{"type":"line","color":"#0000ff","strokeWidth":6,"yOffset":3,"strokeJoin":"miter"},
  "encoding":{"x":{"field":"E","type":"quantitative"},"y":{"field":"P","type":"quantitative"}}},
 {"data":{"name":"tdse"},"mark":{"type":"line","strokeWidth":1},
  "encoding":{"x":{"field":"E","type":"quantitative"},"y":{"field":"P","type":"quantitative"},
   "color":{"datum":"TDSE","scale":{"domain":["TDSE","Model with Ωᴬ / KFR","Model with Ωᴮ","Model without filtering"],"range":["#0000ff","#ff0000","#00ffff","#00ff00"]},
     "legend":{"title":null,"orient":"bottom-left","offset":2,"padding":0,"rowPadding":4,"labelFontSize":16,"labelFont":"Liberation Serif","labelColor":"black","symbolType":"M-1,0H6","symbolSize":100,"symbolStrokeWidth":2,"labelOffset":24}}}},
 {"data":{"name":"green"},"mark":{"type":"area","fill":"#00ff00"},
  "encoding":{"x":{"field":"E","type":"quantitative"},"y":{"field":"P","type":"quantitative"},"y2":{"datum":1e-20}}},
 {"data":{"name":"green"},"mark":{"type":"line","strokeWidth":1},
  "encoding":{"x":{"field":"E","type":"quantitative"},"y":{"field":"P","type":"quantitative"},"color":{"datum":"Model without filtering"}}},
 {"data":{"name":"cyan"},"mark":{"type":"area","fill":{"gradient":"linear","x1":0,"y1":0,"x2":0,"y2":1,"stops":[
{"offset":0,"color":"#000"},{"offset":0.009,"color":"#000"},{"offset":0.009,"color":"#00ffff"},{"offset":0.0286,"color":"#00ffff"},
{"offset":0.0286,"color":"#000"},{"offset":0.0376,"color":"#000"},{"offset":0.0376,"color":"#00ffff"},{"offset":0.0571,"color":"#00ffff"},
{"offset":0.0571,"color":"#000"},{"offset":0.0661,"color":"#000"},{"offset":0.0661,"color":"#00ffff"},{"offset":0.0857,"color":"#00ffff"},
{"offset":0.0857,"color":"#000"},{"offset":0.0947,"color":"#000"},{"offset":0.0947,"color":"#00ffff"},{"offset":0.1143,"color":"#00ffff"},
{"offset":0.1143,"color":"#000"},{"offset":0.1233,"color":"#000"},{"offset":0.1233,"color":"#00ffff"},{"offset":0.1429,"color":"#00ffff"},
{"offset":0.1429,"color":"#000"},{"offset":0.1519,"color":"#000"},{"offset":0.1519,"color":"#00ffff"},{"offset":0.1714,"color":"#00ffff"},
{"offset":0.1714,"color":"#000"},{"offset":0.1804,"color":"#000"},{"offset":0.1804,"color":"#00ffff"},{"offset":0.2,"color":"#00ffff"},
{"offset":0.2,"color":"#000"},{"offset":0.209,"color":"#000"},{"offset":0.209,"color":"#00ffff"},{"offset":0.2286,"color":"#00ffff"},
{"offset":0.2286,"color":"#000"},{"offset":0.2376,"color":"#000"},{"offset":0.2376,"color":"#00ffff"},{"offset":0.2571,"color":"#00ffff"},
{"offset":0.2571,"color":"#000"},{"offset":0.2661,"color":"#000"},{"offset":0.2661,"color":"#00ffff"},{"offset":0.2857,"color":"#00ffff"},
{"offset":0.2857,"color":"#000"},{"offset":0.2947,"color":"#000"},{"offset":0.2947,"color":"#00ffff"},{"offset":0.3143,"color":"#00ffff"},
{"offset":0.3143,"color":"#000"},{"offset":0.3233,"color":"#000"},{"offset":0.3233,"color":"#00ffff"},{"offset":0.3429,"color":"#00ffff"},
{"offset":0.3429,"color":"#000"},{"offset":0.3519,"color":"#000"},{"offset":0.3519,"color":"#00ffff"},{"offset":0.3714,"color":"#00ffff"},
{"offset":0.3714,"color":"#000"},{"offset":0.3804,"color":"#000"},{"offset":0.3804,"color":"#00ffff"},{"offset":0.4,"color":"#00ffff"},
{"offset":0.4,"color":"#000"},{"offset":0.409,"color":"#000"},{"offset":0.409,"color":"#00ffff"},{"offset":0.4286,"color":"#00ffff"},
{"offset":0.4286,"color":"#000"},{"offset":0.4376,"color":"#000"},{"offset":0.4376,"color":"#00ffff"},{"offset":0.4571,"color":"#00ffff"},
{"offset":0.4571,"color":"#000"},{"offset":0.4661,"color":"#000"},{"offset":0.4661,"color":"#00ffff"},{"offset":0.4857,"color":"#00ffff"},
{"offset":0.4857,"color":"#000"},{"offset":0.4947,"color":"#000"},{"offset":0.4947,"color":"#00ffff"},{"offset":0.5143,"color":"#00ffff"},
{"offset":0.5143,"color":"#000"},{"offset":0.5233,"color":"#000"},{"offset":0.5233,"color":"#00ffff"},{"offset":0.5429,"color":"#00ffff"},
{"offset":0.5429,"color":"#000"},{"offset":0.5519,"color":"#000"},{"offset":0.5519,"color":"#00ffff"},{"offset":0.5714,"color":"#00ffff"},
{"offset":0.5714,"color":"#000"},{"offset":0.5804,"color":"#000"},{"offset":0.5804,"color":"#00ffff"},{"offset":0.6,"color":"#00ffff"},
{"offset":0.6,"color":"#000"},{"offset":0.609,"color":"#000"},{"offset":0.609,"color":"#00ffff"},{"offset":0.6286,"color":"#00ffff"},
{"offset":0.6286,"color":"#000"},{"offset":0.6376,"color":"#000"},{"offset":0.6376,"color":"#00ffff"},{"offset":0.6571,"color":"#00ffff"},
{"offset":0.6571,"color":"#000"},{"offset":0.6661,"color":"#000"},{"offset":0.6661,"color":"#00ffff"},{"offset":0.6857,"color":"#00ffff"},
{"offset":0.6857,"color":"#000"},{"offset":0.6947,"color":"#000"},{"offset":0.6947,"color":"#00ffff"},{"offset":0.7143,"color":"#00ffff"},
{"offset":0.7143,"color":"#000"},{"offset":0.7233,"color":"#000"},{"offset":0.7233,"color":"#00ffff"},{"offset":0.7429,"color":"#00ffff"},
{"offset":0.7429,"color":"#000"},{"offset":0.7519,"color":"#000"},{"offset":0.7519,"color":"#00ffff"},{"offset":0.7714,"color":"#00ffff"},
{"offset":0.7714,"color":"#000"},{"offset":0.7804,"color":"#000"},{"offset":0.7804,"color":"#00ffff"},{"offset":0.8,"color":"#00ffff"},
{"offset":0.8,"color":"#000"},{"offset":0.809,"color":"#000"},{"offset":0.809,"color":"#00ffff"},{"offset":0.8286,"color":"#00ffff"},
{"offset":0.8286,"color":"#000"},{"offset":0.8376,"color":"#000"},{"offset":0.8376,"color":"#00ffff"},{"offset":0.8571,"color":"#00ffff"},
{"offset":0.8571,"color":"#000"},{"offset":0.8661,"color":"#000"},{"offset":0.8661,"color":"#00ffff"},{"offset":0.8857,"color":"#00ffff"},
{"offset":0.8857,"color":"#000"},{"offset":0.8947,"color":"#000"},{"offset":0.8947,"color":"#00ffff"},{"offset":0.9143,"color":"#00ffff"},
{"offset":0.9143,"color":"#000"},{"offset":0.9233,"color":"#000"},{"offset":0.9233,"color":"#00ffff"},{"offset":0.9429,"color":"#00ffff"},
{"offset":0.9429,"color":"#000"},{"offset":0.9519,"color":"#000"},{"offset":0.9519,"color":"#00ffff"},{"offset":0.9714,"color":"#00ffff"},
{"offset":0.9714,"color":"#000"},{"offset":0.9804,"color":"#000"},{"offset":0.9804,"color":"#00ffff"},{"offset":1,"color":"#00ffff"}
]}},
  "encoding":{"x":{"field":"E","type":"quantitative"},"y":{"field":"P","type":"quantitative"},"y2":{"datum":1e-20}}},
 {"data":{"name":"cyan"},"mark":{"type":"line","strokeWidth":1.5},
  "encoding":{"x":{"field":"E","type":"quantitative"},"y":{"field":"P","type":"quantitative"},"color":{"datum":"Model with Ωᴮ"}}},
 {"data":{"name":"red"},"mark":{"type":"area","fill":"white"},
  "encoding":{"x":{"field":"E","type":"quantitative"},"y":{"field":"P","type":"quantitative"},"y2":{"datum":1e-20}}},
 {"data":{"name":"red"},"mark":{"type":"line","strokeWidth":2},
  "encoding":{"x":{"field":"E","type":"quantitative"},"y":{"field":"P","type":"quantitative"},"color":{"datum":"Model with Ωᴬ / KFR"}}},
 {"data":{"values":[{}]},"mark":{"type":"rule","color":"black","strokeWidth":1.2,"strokeDash":[6,3]},
  "encoding":{"x":{"datum":0.9},"y":{"datum":6.6e6},"y2":{"datum":2.24e-12}}},
 {"data":{"values":[{}]},"mark":{"type":"rule","color":"#ff00ff","strokeWidth":1.5,"strokeDash":[5,3]},
  "encoding":{"x":{"datum":4.53},"y":{"datum":1e8},"y2":{"datum":1e-20}}},
 {"data":{"values":[{}]},"mark":{"type":"text","text":"2Uₚ","font":"Liberation Serif","fontSize":18,"align":"center","baseline":"middle","color":"black"},
  "encoding":{"x":{"datum":0.68},"y":{"datum":7400}}},
 {"data":{"values":[{}]},"mark":{"type":"text","text":"10Uₚ","font":"Liberation Serif","fontSize":18,"align":"left","baseline":"middle","color":"#ff00ff"},
  "encoding":{"x":{"datum":4.54},"y":{"datum":7.4e-19}}},
 {"data":{"values":[{}]},"mark":{"type":"text","text":"I","font":"Liberation Serif","fontSize":22,"align":"center","baseline":"middle","color":"white"},
  "encoding":{"x":{"datum":3.96},"y":{"datum":2.1e-8}}},
 {"data":{"values":[{}]},"mark":{"type":"text","text":"II","font":"Liberation Serif","fontSize":21,"align":"center","baseline":"middle","color":"white"},
  "encoding":{"x":{"datum":3.53},"y":{"datum":1.15e-12}}},
 {"data":{"values":[{}]},"mark":{"type":"text","text":"III","font":"Liberation Serif","fontSize":19,"align":"center","baseline":"middle","color":"black"},
  "encoding":{"x":{"datum":2.13},"y":{"datum":5.4e-11}}}
]},
{"layer":[
 {"data":{"values":[{}]},"mark":{"type":"rule","opacity":0},
  "encoding":{"y":{"datum":1e-20,"type":"quantitative","scale":{"type":"log","domain":[1e-20,1e8],"nice":false},
   "axis":{"orient":"right","values":[1e-20,1e-19,1e-18,1e-17,1e-16,1e-15,1e-14,1e-13,1e-12,1e-11,1e-10,1e-9,1e-8,1e-7,1e-6,1e-5,1e-4,1e-3,0.01],"labels":false,"domain":false,"tickSize":-4,"title":null,"zindex":1}}}}
]},
{"layer":[
 {"data":{"values":[{}]},"mark":{"type":"rect","fill":"white","stroke":"black","strokeWidth":1.5},
  "encoding":{
   "x":{"datum":0,"type":"quantitative","scale":{"domain":[0,3],"range":[150,420],"nice":false},
        "axis":{"orient":"bottom","offset":-186,"values":[0,1,2,3],"format":"d","tickSize":-4,"labelPadding":4,"labelFontSize":16,"labelFont":"Liberation Serif","labelColor":"black","title":"Frequency Ω (atomic units)","titleFont":"Liberation Serif","titleFontWeight":"normal","titleColor":"black","titleFontSize":20,"titlePadding":2,"titleX":300,"titleAlign":"center","labelFlush":false,"labelOverlap":false,"zindex":1}},
   "x2":{"datum":3},
   "y":{"datum":1e-4,"type":"quantitative","scale":{"type":"log","domain":[1e-4,1e3],"range":[99,0],"nice":false},
        "axis":{"orient":"left","offset":-150,"values":[1e-4,1e-3,0.01,0.1,1,10,100,1000],"labelExpr":"datum.value == 100 ? '10²' : datum.value == 1 ? '10⁰' : datum.value == 0.01 ? '10⁻²' : datum.value == 1e-4 ? '10⁻⁴' : ''","tickSize":-4,"labelPadding":7,"labelFontSize":15,"labelFont":"Liberation Serif","labelColor":"black","title":null,"labelFlush":false,"labelOverlap":false,"zindex":1}},
   "y2":{"datum":1e3}}},
 {"data":{"name":"spec"},"mark":{"type":"line","color":"#ff0000","strokeWidth":1},
  "encoding":{"x":{"field":"f","type":"quantitative"},"y":{"field":"P","type":"quantitative"}}},
 {"data":{"values":[{}]},"mark":{"type":"rule","color":"black","strokeWidth":1.5},
  "encoding":{"x":{"datum":0.167},"y":{"datum":1e-4},"y2":{"datum":1e3}}},
 {"data":{"values":[{}]},"mark":{"type":"rule","color":"#00e0f0","strokeWidth":1.5},
  "encoding":{"x":{"datum":0.9},"y":{"datum":1e-4},"y2":{"datum":1e3}}},
 {"data":{"values":[{}]},"mark":{"type":"text","text":"Probability","font":"Liberation Serif","fontSize":17,"angle":270,"align":"center","baseline":"middle","color":"black"},
  "encoding":{"x":{"datum":-0.744},"y":{"datum":0.15}}},
 {"data":{"values":[{}]},"mark":{"type":"text","text":"(arb. units)","font":"Liberation Serif","fontSize":17,"angle":270,"align":"center","baseline":"middle","color":"black"},
  "encoding":{"x":{"datum":-0.44},"y":{"datum":0.15}}},
 {"data":{"values":[{}]},"mark":{"type":"text","text":"Ωᴬ","font":"Liberation Serif","fontSize":18,"align":"left","baseline":"alphabetic","color":"black"},
  "encoding":{"x":{"datum":0.215},"y":{"datum":7.5}}},
 {"data":{"values":[{}]},"mark":{"type":"text","text":"Ωᴮ","font":"Liberation Serif","fontSize":18,"align":"left","baseline":"alphabetic","color":"#00e0f0"},
  "encoding":{"x":{"datum":0.93},"y":{"datum":1.48}}}
]}
],
"resolve":{"scale":{"x":"independent","y":"independent"}}
}
